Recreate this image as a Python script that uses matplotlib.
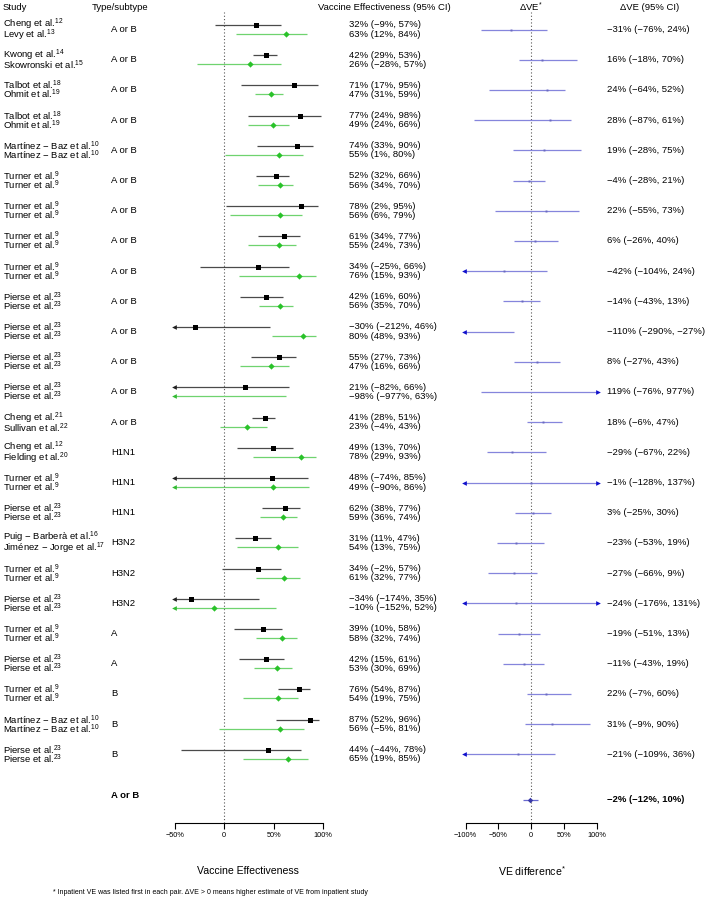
import matplotlib
matplotlib.use('Agg')
import matplotlib.pyplot as plt
import matplotlib.transforms as mtransforms

plt.rcParams['font.family'] = ['Liberation Sans', 'DejaVu Sans']
plt.rcParams['mathtext.fontset'] = 'custom'
plt.rcParams['mathtext.rm'] = 'Liberation Sans'
plt.rcParams['mathtext.default'] = 'regular'

# inpatient study (first of each pair) and outpatient study (second)
study_in = ['Cheng et al.', 'Kwong et al.', 'Talbot et al.', 'Talbot et al.',
            'Martínez \u2212 Baz et al.', 'Turner et al.', 'Turner et al.', 'Turner et al.',
            'Turner et al.', 'Pierse et al.', 'Pierse et al.', 'Pierse et al.',
            'Pierse et al.', 'Cheng et al.', 'Cheng et al.', 'Turner et al.',
            'Pierse et al.', 'Puig \u2212 Barberà et al.', 'Turner et al.', 'Pierse et al.',
            'Turner et al.', 'Pierse et al.', 'Turner et al.', 'Martínez \u2212 Baz et al.',
            'Pierse et al.']
ref_in = [12, 14, 18, 18, 10, 9, 9, 9, 9, 23, 23, 23, 23, 21, 12, 9, 23, 16, 9, 23,
          9, 23, 9, 10, 23]
study_out = ['Levy et al.', 'Skowronski et al.', 'Ohmit et al.', 'Ohmit et al.',
             'Martínez \u2212 Baz et al.', 'Turner et al.', 'Turner et al.', 'Turner et al.',
             'Turner et al.', 'Pierse et al.', 'Pierse et al.', 'Pierse et al.',
             'Pierse et al.', 'Sullivan et al.', 'Fielding et al.', 'Turner et al.',
             'Pierse et al.', 'Jiménez \u2212 Jorge et al.', 'Turner et al.', 'Pierse et al.',
             'Turner et al.', 'Pierse et al.', 'Turner et al.', 'Martínez \u2212 Baz et al.',
             'Pierse et al.']
ref_out = [13, 15, 19, 19, 10, 9, 9, 9, 9, 23, 23, 23, 23, 22, 20, 9, 23, 17, 9, 23,
           9, 23, 9, 10, 23]
subtype = ['A or B'] * 14 + ['H1N1'] * 3 + ['H3N2'] * 3 + ['A', 'A', 'B', 'B', 'B']

ve_in = [32, 42, 71, 77, 74, 52, 78, 61, 34, 42, -30, 55, 21, 41, 49, 48, 62, 31, 34, -34,
         39, 42, 76, 87, 44]
lo_in = [-9, 29, 17, 24, 33, 32, 2, 34, -25, 16, -212, 27, -82, 28, 13, -74, 38, 11, -2, -174,
         10, 15, 54, 52, -44]
hi_in = [57, 53, 95, 98, 90, 66, 95, 77, 66, 60, 46, 73, 66, 51, 70, 85, 77, 47, 57, 35,
         58, 61, 87, 96, 78]
ve_out = [63, 26, 47, 49, 55, 56, 56, 55, 76, 56, 80, 47, -98, 23, 78, 49, 59, 54, 61, -10,
          58, 53, 54, 56, 65]
lo_out = [12, -28, 31, 24, 1, 34, 6, 24, 15, 35, 48, 16, -977, -4, 29, -90, 36, 13, 32, -152,
          32, 30, 19, -5, 19]
hi_out = [84, 57, 59, 66, 80, 70, 79, 73, 93, 70, 93, 66, 63, 43, 93, 86, 74, 75, 77, 52,
          74, 69, 75, 81, 85]
dve = [-31, 16, 24, 28, 19, -4, 22, 6, -42, -14, -110, 8, 119, 18, -29, -1, 3, -23, -27, -24,
       -19, -11, 22, 31, -21]
dlo = [-76, -18, -64, -87, -28, -28, -55, -26, -104, -43, -290, -27, -76, -6, -67, -128, -25,
       -53, -66, -176, -51, -43, -7, -9, -109]
dhi = [24, 70, 52, 61, 75, 21, 73, 40, 24, 13, -27, 43, 977, 47, 22, 137, 30, 19, 9, 131,
       13, 19, 60, 90, 36]
pooled_label = 'A or B'
pooled = (-2, -12, 10)

W, H = 705, 900
fig = plt.figure(figsize=(W / 100, H / 100), dpi=100)


def fx(px):
    return px / W


def fy(py):
    return 1 - py / H


# vertical layout: rows 30.2 px apart, first row centred at y=29.5 px
top_px, bot_px = 12, 822.7
row_px = 30.2
ytop = 1 + (top_px - 29.5) / row_px
ybot = 1 + (bot_px - 29.5) / row_px


def make_axes(left_px, right_px, xlim):
    ax = fig.add_axes([fx(left_px), fy(bot_px), (right_px - left_px) / W, (bot_px - top_px) / H])
    ax.set_xlim(*xlim)
    ax.set_ylim(ybot, ytop)
    for s in ['left', 'right', 'top']:
        ax.spines[s].set_visible(False)
    ax.spines['bottom'].set_linewidth(0.8)
    ax.set_yticks([])
    ax.tick_params(axis='x', direction='out', length=4, width=0.8, pad=3, labelsize=5.3)
    ax.axvline(0, color='#555555', lw=0.8, ls=(0, (1, 2)))
    ax.patch.set_visible(False)
    return ax


ax1 = make_axes(165.1, 334.8, (-60, 112))
ax2 = make_axes(457.8, 604.8, (-112, 112))

ax1.set_xticks([-50, 0, 50, 100])
ax1.set_xticklabels(['\u221250%', '0', '50%', '100%'])
ax1.spines['bottom'].set_bounds(-50, 100)
ax2.set_xticks([-100, -50, 0, 50, 100])
ax2.set_xticklabels(['\u2212100%', '\u221250%', '0', '50%', '100%'])
ax2.spines['bottom'].set_bounds(-100, 100)


def draw_ci(ax, y, est, lo, hi, clip, lcol, acol, mk, mcol, ms):
    a, b = max(lo, clip[0]), min(hi, clip[1])
    ax.plot([a, b], [y, y], color=lcol, lw=0.9, solid_capstyle='butt')
    if lo < clip[0]:
        ax.plot(a, y, marker='<', color=acol, ms=3.4, mew=0)
    if hi > clip[1]:
        ax.plot(b, y, marker='>', color=acol, ms=3.4, mew=0)
    if clip[0] <= est <= clip[1]:
        ax.plot(est, y, marker=mk, color=mcol, ms=ms, mew=0)


def fmt(v, lo, hi):
    return f'{v}% ({lo}%, {hi}%)'.replace('-', '\u2212')


off = 0.15
ve_clip = (-51, 100)
d_clip = (-102, 102)
tcol = mtransforms.blended_transform_factory(fig.transFigure, ax1.transData)
fs = 6.8

for i in range(len(dve)):
    y = i + 1
    draw_ci(ax1, y - off, ve_in[i], lo_in[i], hi_in[i], ve_clip,
            '#4a4a4a', '#222222', 's', 'black', 3.6)
    draw_ci(ax1, y + off, ve_out[i], lo_out[i], hi_out[i], ve_clip,
            '#6fd36f', '#33bb33', 'D', '#2ac22a', 3.2)
    draw_ci(ax2, y, dve[i], dlo[i], dhi[i], d_clip,
            '#8585dc', '#1010cc', 's', '#6a6ac0', 1.4)

    names = f'{study_in[i]}$^{{{ref_in[i]}}}$\n{study_out[i]}$^{{{ref_out[i]}}}$'
    ax1.text(fx(3), y + 0.01, names, transform=tcol, fontsize=fs, ha='left',
             va='center', linespacing=0.6)
    ax1.text(fx(111), y, subtype[i], transform=tcol, fontsize=fs, ha='left', va='center')
    ax1.text(fx(349), y - off, fmt(ve_in[i], lo_in[i], hi_in[i]), transform=tcol,
             fontsize=fs, ha='left', va='center')
    ax1.text(fx(349), y + off, fmt(ve_out[i], lo_out[i], hi_out[i]), transform=tcol,
             fontsize=fs, ha='left', va='center')
    ax1.text(fx(607), y, fmt(dve[i], dlo[i], dhi[i]), transform=tcol,
             fontsize=fs, ha='left', va='center')

# pooled estimate
yp = len(dve) + 1.5
draw_ci(ax2, yp, pooled[0], pooled[1], pooled[2], d_clip,
        '#6a6ad0', '#1010cc', 'D', '#3a3aa8', 2.8)
ax1.text(fx(111), yp - off, pooled_label, transform=tcol, fontsize=fs,
         fontweight='bold', ha='left', va='center')
ax1.text(fx(607), yp, fmt(*pooled), transform=tcol, fontsize=fs,
         fontweight='bold', ha='left', va='center')

# headers
hy = fy(7)
fig.text(fx(3), hy, 'Study', fontsize=fs, ha='left', va='center')
fig.text(fx(92), hy, 'Type/subtype', fontsize=fs, ha='left', va='center')
fig.text(fx(384), hy, 'Vaccine Effectiveness (95% CI)', fontsize=fs, ha='center', va='center')
fig.text(fx(531), hy, '\u0394VE$^{*}$', fontsize=fs, ha='center', va='center')
fig.text(fx(650), hy, '\u0394VE (95% CI)', fontsize=fs, ha='center', va='center')

# axis titles and footnote
fig.text(fx(248), fy(871), 'Vaccine Effectiveness', fontsize=7.6, ha='center', va='center')
fig.text(fx(532), fy(871), 'VE difference$^{*}$', fontsize=7.6, ha='center', va='center')
fig.text(fx(53), fy(892), '* Inpatient VE was listed first in each pair. \u0394VE > 0 means '
         'higher estimate of VE from inpatient study', fontsize=5, ha='left', va='center')

fig.savefig('out.png', dpi=100)
